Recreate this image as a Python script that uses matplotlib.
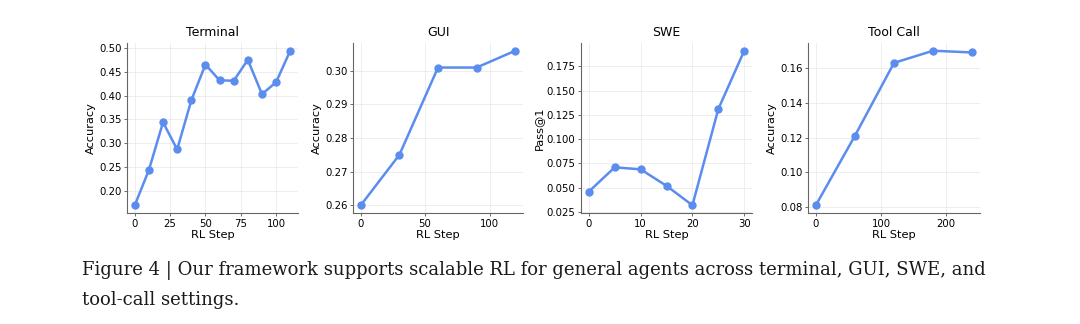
import matplotlib
matplotlib.use('Agg')
import matplotlib.pyplot as plt
from matplotlib.ticker import MultipleLocator

plt.rcParams['font.family'] = ['DejaVu Sans']

# data
terminal_steps = [0, 10, 20, 30, 40, 50, 60, 70, 80, 90, 100, 110]
terminal_acc = [0.170, 0.244, 0.344, 0.287, 0.390, 0.465, 0.432, 0.431, 0.475, 0.403, 0.428, 0.494]

gui_steps = [0, 30, 60, 90, 120]
gui_acc = [0.260, 0.275, 0.301, 0.301, 0.306]

swe_steps = [0, 5, 10, 15, 20, 25, 30]
swe_pass = [0.046, 0.071, 0.069, 0.052, 0.032, 0.131, 0.191]

tool_steps = [0, 60, 120, 180, 240]
tool_acc = [0.081, 0.121, 0.163, 0.170, 0.169]

panels = [
    ('Terminal', terminal_steps, terminal_acc, 'Accuracy', 25),
    ('GUI', gui_steps, gui_acc, 'Accuracy', 50),
    ('SWE', swe_steps, swe_pass, 'Pass@1', 10),
    ('Tool Call', tool_steps, tool_acc, 'Accuracy', 100),
]

caption_lines = ['Figure 4 | Our framework supports scalable RL for general agents across terminal, GUI, SWE, and',
                 'tool-call settings.']

W, H = 1080, 324
lefts = [127, 353, 581, 808]
widths = [171, 170, 171, 172]
top, bottom = 43, 213

color = '#5b8def'

fig = plt.figure(figsize=(W / 100, H / 100), dpi=100)
for (title, x, y, ylabel, xstep), l, w in zip(panels, lefts, widths):
    ax = fig.add_axes([l / W, 1 - bottom / H, w / W, (bottom - top) / H])
    ax.plot(x, y, '-o', color=color, lw=1.8, ms=5)
    ax.xaxis.set_major_locator(MultipleLocator(xstep))
    ax.set_title(title, fontsize=9, pad=5)
    ax.set_xlabel('RL Step', fontsize=8.2, labelpad=1)
    ax.set_ylabel(ylabel, fontsize=8.2, labelpad=2)
    ax.tick_params(labelsize=7.3, length=2, width=0.6, color='#555555', pad=2)
    ax.grid(True, color='#ebebeb', lw=0.6)
    ax.set_axisbelow(True)
    for s in ['top', 'right']:
        ax.spines[s].set_visible(False)
    for s in ['left', 'bottom']:
        ax.spines[s].set_color('#666666')
        ax.spines[s].set_linewidth(0.8)

# caption, sized so the first line spans the same width as in the figure
t1 = fig.text(82 / W, 1 - 275 / H, caption_lines[0], fontsize=12, family='DejaVu Serif',
              va='baseline', ha='left', color='#1a1a1a')
fig.canvas.draw()
w1 = t1.get_window_extent().width
fs = 12 * 903 / w1
t1.set_fontsize(fs)
fig.text(82 / W, 1 - 305 / H, caption_lines[1], fontsize=fs, family='DejaVu Serif',
         va='baseline', ha='left', color='#1a1a1a')

fig.savefig('out.png', dpi=100)
